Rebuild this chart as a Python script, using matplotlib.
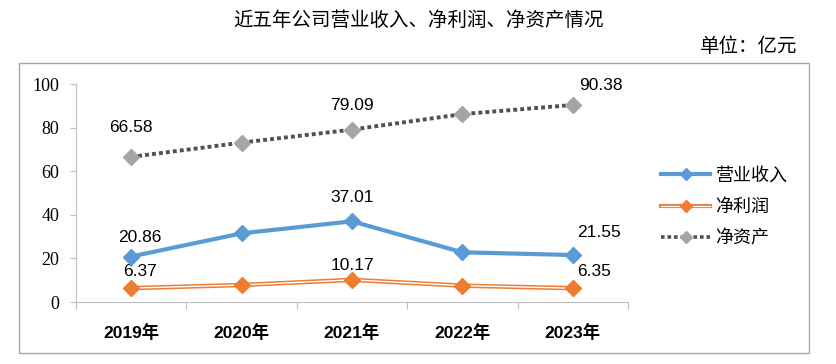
import matplotlib.pyplot as plt
from matplotlib.patches import Rectangle
from matplotlib.lines import Line2D
import matplotlib.ticker as ticker

# Data (亿元)
years = ['2019年', '2020年', '2021年', '2022年', '2023年']
revenue = [20.86, 31.5, 37.01, 22.8, 21.55]
net_profit = [6.37, 7.8, 10.17, 7.5, 6.35]
net_assets = [66.58, 73.1, 79.09, 86.2, 90.38]
series_names = ['营业收入', '净利润', '净资产']
labelled_idx = [0, 2, 4]

cjk = 'Noto Sans CJK SC'
serif_num = 'Liberation Serif'
sans_num = 'Liberation Sans'

BLUE, ORANGE, GRAY_M, GRAY_L = '#5B9BD5', '#ED7D31', '#A5A5A5', '#505050'
DOTS = (0, (1, 0.8))

# label offsets in points (dx, dy) for indices 0, 2, 4
off_rev = [(6, 14), (0, 17), (19, 16)]
off_np = [(6, 12), (0, 10), (15, 12)]
off_na = [(0, 21), (0, 17), (20, 14)]

fig = plt.figure(figsize=(8.36, 3.64), dpi=100)
ax = fig.add_axes([0.0909, 0.1703, 0.6603, 0.5989])

x = list(range(len(years)))

ax.plot(x, revenue, color=BLUE, lw=3.0, marker='D', ms=8,
        mfc=BLUE, mec=BLUE, solid_capstyle='round', zorder=4)
ax.plot(x, net_profit, color=ORANGE, lw=3.2, zorder=4)
ax.plot(x, net_profit, color='white', lw=1.0, zorder=4.1)
ax.plot(x, net_profit, ls='none', marker='D', ms=8, mfc=ORANGE, mec=ORANGE, zorder=4.2)
ax.plot(x, net_assets, color=GRAY_L, lw=2.8, ls=DOTS, dash_capstyle='butt',
        marker='D', ms=8, mfc=GRAY_M, mec=GRAY_M, zorder=4)

for series, offs in [(revenue, off_rev), (net_profit, off_np), (net_assets, off_na)]:
    for i, (dx, dy) in zip(labelled_idx, offs):
        ax.annotate(f'{series[i]:.2f}', (i, series[i]), xytext=(dx, dy),
                    textcoords='offset points', ha='center', va='center',
                    fontsize=12.5, family=sans_num, color='black')

ax.set_xlim(-0.5, 4.5)
ax.set_ylim(0, 100)
ax.yaxis.set_major_locator(ticker.MultipleLocator(20))
ax.set_xticks(x)
ax.set_xticklabels(years)
ax.set_xticks([i + 0.5 for i in range(-1, 5)], minor=True)
ax.tick_params(axis='x', which='major', length=0, pad=16)
ax.tick_params(axis='x', which='minor', length=5, color='#BFBFBF', width=0.8)
ax.tick_params(axis='y', length=4, color='#BFBFBF', width=0.8, pad=8,
               labelsize=13, labelfontfamily=serif_num)
for lab in ax.get_xticklabels():
    lab.set_family([sans_num, cjk])
    lab.set_fontweight('bold')
    lab.set_fontsize(12.5)

for s in ['top', 'right']:
    ax.spines[s].set_visible(False)
for s in ['left', 'bottom']:
    ax.spines[s].set_color('#BFBFBF')
    ax.spines[s].set_linewidth(0.8)

# legend handles
h_rev = Line2D([], [], color=BLUE, lw=3.0, marker='D', ms=6, mfc=BLUE, mec=BLUE)
h_np = (Line2D([], [], color=ORANGE, lw=3.0),
        Line2D([], [], color='white', lw=0.9),
        Line2D([], [], ls='none', marker='D', ms=6, mfc=ORANGE, mec=ORANGE))
h_na = Line2D([], [], color=GRAY_L, lw=2.6, ls=DOTS, dash_capstyle='butt',
              marker='D', ms=6, mfc=GRAY_M, mec=GRAY_M)
leg = fig.legend([h_rev, h_np, h_na], series_names, loc='center left',
                 bbox_to_anchor=(645 / 836, 1 - 207 / 364), frameon=False,
                 handlelength=2.7, handletextpad=0.3, labelspacing=0.75,
                 prop={'family': cjk, 'size': 13})

# outer frame
fig.patches.append(Rectangle((19 / 836, 1 - 353 / 364), 790 / 836, 290 / 364,
                             transform=fig.transFigure, fill=False,
                             edgecolor='#A6A6A6', lw=1.0))

fig.text(418 / 836, 1 - 20 / 364, '近五年公司营业收入、净利润、净资产情况',
         ha='center', va='center', family=cjk, fontsize=14)
fig.text(797 / 836, 1 - 47 / 364, '单位：亿元', ha='right', va='center',
         family=cjk, fontsize=14)

fig.savefig('out.png', dpi=100)
